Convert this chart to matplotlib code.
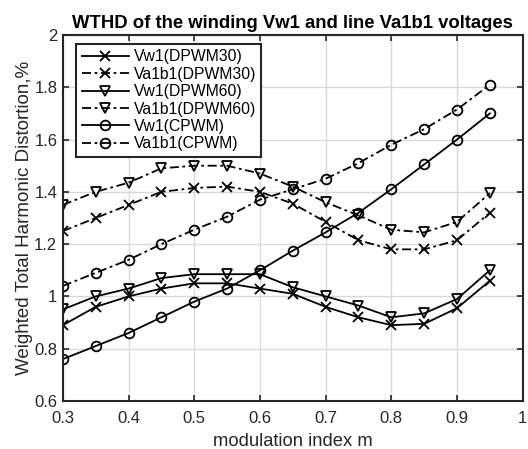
import matplotlib
matplotlib.use("Agg")
import matplotlib.pyplot as plt
import numpy as np

plt.rcParams['font.family'] = ['Liberation Sans', 'DejaVu Sans']

m = [0.30, 0.35, 0.40, 0.45, 0.50, 0.55, 0.60, 0.65, 0.70, 0.75, 0.80, 0.85, 0.90, 0.95]

vw1_dpwm30 = [0.89, 0.96, 1.00, 1.03, 1.05, 1.05, 1.03, 1.01, 0.96, 0.92, 0.89, 0.895, 0.955, 1.06]
va1b1_dpwm30 = [1.25, 1.30, 1.35, 1.40, 1.415, 1.42, 1.40, 1.355, 1.285, 1.215, 1.18, 1.18, 1.215, 1.32]
vw1_dpwm60 = [0.95, 1.00, 1.03, 1.07, 1.085, 1.085, 1.085, 1.035, 1.00, 0.965, 0.92, 0.935, 0.99, 1.10]
va1b1_dpwm60 = [1.35, 1.40, 1.435, 1.49, 1.50, 1.50, 1.47, 1.42, 1.36, 1.31, 1.255, 1.245, 1.285, 1.395]
vw1_cpwm = [0.76, 0.81, 0.86, 0.92, 0.98, 1.03, 1.10, 1.175, 1.245, 1.32, 1.41, 1.505, 1.60, 1.70]
va1b1_cpwm = [1.04, 1.09, 1.14, 1.20, 1.255, 1.305, 1.37, 1.41, 1.45, 1.51, 1.58, 1.64, 1.715, 1.81]

series = [
    (vw1_dpwm30, 'Vw1(DPWM30)', '-', 'x'),
    (va1b1_dpwm30, 'Va1b1(DPWM30)', '-.', 'x'),
    (vw1_dpwm60, 'Vw1(DPWM60)', '-', 'v'),
    (va1b1_dpwm60, 'Va1b1(DPWM60)', '-.', 'v'),
    (vw1_cpwm, 'Vw1(CPWM)', '-', 'o'),
    (va1b1_cpwm, 'Va1b1(CPWM)', '-.', 'o'),
]

fig = plt.figure(figsize=(5.28, 4.49), dpi=100)
ax = fig.add_axes([0.119, 0.107, 0.871, 0.815])

dashdot = (0, (5, 2, 1.5, 2))
for y, label, ls, mk in series:
    ax.plot(m, y, color='black', linewidth=1.3,
            linestyle=dashdot if ls == '-.' else '-',
            marker=mk, markersize=7, markerfacecolor='none',
            markeredgecolor='black', markeredgewidth=1.3, label=label)

ax.set_xlim(0.3, 1.0)
ax.set_ylim(0.6, 2.0)
ax.set_xticks(np.arange(0.3, 1.01, 0.1))
ax.set_xticklabels(['0.3', '0.4', '0.5', '0.6', '0.7', '0.8', '0.9', '1'])
ax.set_yticks(np.arange(0.6, 2.01, 0.2))
ax.set_yticklabels(['0.6', '0.8', '1', '1.2', '1.4', '1.6', '1.8', '2'])
ax.grid(True, color='#d9d9d9', linewidth=1.0)
ax.set_axisbelow(True)
ax.tick_params(direction='in', top=True, right=True, length=4, width=1.2,
               labelsize=12, colors='#262626', labelcolor='#262626')
ax.tick_params(axis='x', pad=7)
ax.tick_params(axis='y', pad=4)
for s in ax.spines.values():
    s.set_linewidth(1.5)
    s.set_color('#262626')

ax.set_xlabel('modulation index m', fontsize=13.2, color='#262626', labelpad=5)
ax.set_ylabel('Weighted Total Harmonic Distortion,%', fontsize=13.5, color='#262626', labelpad=1)
ax.set_title('WTHD of the winding Vw1 and line Va1b1 voltages', fontsize=13.3,
             fontweight='bold', pad=5)

leg = ax.legend(loc='upper left', fontsize=11.3, frameon=True, fancybox=False,
                edgecolor='#262626', framealpha=1, borderaxespad=0.5,
                bbox_to_anchor=(0.012, 0.997),
                handlelength=3.0, handletextpad=0.3, labelspacing=0.15,
                borderpad=0.35)
leg.get_frame().set_linewidth(1.5)

fig.savefig('out.png', dpi=100)
